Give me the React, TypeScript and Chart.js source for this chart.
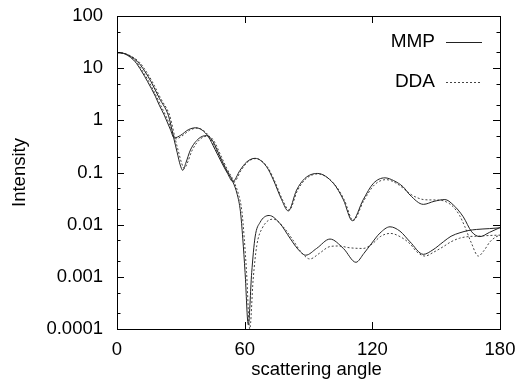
import { useEffect, useRef } from "react";
import { Chart, registerables } from "chart.js";

Chart.register(...registerables);

// ---- data ----
const xTicks = [0, 60, 120, 180];
const yTicks = [0.0001, 0.001, 0.01, 0.1, 1, 10, 100];
const yTickLabels = ["0.0001", "0.001", "0.01", "0.1", "1", "10", "100"];
const legendLabels = ["MMP", "DDA"];
const xTitle = "scattering angle";
const yTitle = "Intensity";

const mmpAAngles = [0, 4, 8.5, 11.5, 14.4, 18, 20, 22.2, 25, 26.9, 30, 33.5, 37, 40, 43, 46, 49, 52, 54.4, 57.8, 61, 64.9, 70.3, 73.5, 77.4, 80.5, 84.4, 88.3, 94.1, 101.7, 106.4, 110.6, 115.7, 120.5, 125.9, 130, 134.5, 137.7, 144, 149, 154.1, 158, 162.7, 166.7, 170.6, 175, 180];
const mmpAValues = [20, 18.5, 13.3, 8.8, 5.5, 2.9, 1.9, 1.26, 0.68, 0.46, 0.52, 0.66, 0.72, 0.65, 0.48, 0.28, 0.16, 0.095, 0.067, 0.11, 0.16, 0.187, 0.129, 0.072, 0.03, 0.0183, 0.046, 0.077, 0.096, 0.062, 0.03, 0.0119, 0.03, 0.062, 0.079, 0.07, 0.053, 0.037, 0.0245, 0.028, 0.0303, 0.024, 0.0142, 0.0073, 0.0059, 0.0071, 0.0088];

const mmpBAngles = [0, 4, 9.7, 13, 16, 20, 24.1, 25.2, 26.6, 28.3, 29.7, 30.9, 32.3, 34.5, 38.5, 42.1, 45, 48, 51, 54.4, 56.5, 58, 59.1, 60.2, 61.7, 63.3, 64.9, 67.2, 71.5, 76.6, 81.3, 85, 88.7, 93.8, 100.1, 106.4, 112.3, 116, 119.5, 123.6, 128.3, 133, 137.7, 144, 148.5, 153.4, 157, 161.2, 165, 169, 175, 180];
const mmpBValues = [20, 18.8, 13.3, 8.8, 5.5, 2.6, 1.26, 0.85, 0.47, 0.24, 0.14, 0.11, 0.15, 0.27, 0.45, 0.51, 0.4, 0.22, 0.12, 0.067, 0.038, 0.018, 0.0055, 0.0012, 0.00012, 0.0012, 0.0058, 0.011, 0.015, 0.0105, 0.0055, 0.0034, 0.0026, 0.0035, 0.0053, 0.0035, 0.0019, 0.0028, 0.0043, 0.0069, 0.0091, 0.0075, 0.0047, 0.0027, 0.0033, 0.0047, 0.006, 0.007, 0.0077, 0.0081, 0.0084, 0.0087];

const ddaAAngles = [0, 4, 9, 12, 15, 18.5, 20.5, 22.8, 25.6, 27.6, 30.5, 34, 37.6, 40.6, 43.5, 46.5, 49.5, 52.5, 55, 58.3, 61.5, 65.3, 70.7, 74, 77.8, 80.9, 84.8, 88.7, 94.5, 102, 106.8, 111, 116, 121, 126.5, 131, 134.5, 137.7, 141, 144, 148, 151.8, 155, 158, 161, 163.5, 166.5, 169.8, 172.5, 175.3, 178, 180];
const ddaAValues = [20, 18.7, 13.3, 8.8, 5.5, 2.9, 1.95, 1.26, 0.68, 0.44, 0.5, 0.64, 0.71, 0.64, 0.48, 0.28, 0.16, 0.095, 0.066, 0.11, 0.16, 0.185, 0.128, 0.07, 0.03, 0.019, 0.045, 0.075, 0.094, 0.061, 0.03, 0.012, 0.029, 0.058, 0.073, 0.063, 0.05, 0.039, 0.033, 0.0303, 0.0298, 0.0295, 0.027, 0.022, 0.015, 0.0091, 0.0045, 0.0025, 0.0032, 0.0047, 0.0058, 0.0063];

const ddaBAngles = [0, 4, 10.3, 13.6, 16.6, 20.6, 24.7, 25.8, 27.2, 28.9, 30.4, 31.6, 33, 35.2, 39.2, 42.8, 45.6, 48.6, 51.6, 55, 57.2, 58.7, 59.8, 60.9, 62.4, 64, 65.7, 68.2, 73.5, 78, 82.5, 86.5, 90.7, 95, 100, 104, 109.5, 115.7, 120, 124, 128.5, 133, 137.7, 141, 144.7, 149, 153.4, 157, 161, 165, 169, 175, 180];
const ddaBValues = [20, 18.9, 13.3, 8.8, 5.5, 2.6, 1.26, 0.85, 0.47, 0.25, 0.15, 0.12, 0.15, 0.26, 0.44, 0.5, 0.4, 0.22, 0.12, 0.066, 0.037, 0.018, 0.0055, 0.0012, 0.0001, 0.0009, 0.004, 0.0085, 0.0128, 0.0092, 0.0052, 0.003, 0.0022, 0.0028, 0.0038, 0.0039, 0.0036, 0.0035, 0.0043, 0.006, 0.0068, 0.0059, 0.0043, 0.003, 0.0025, 0.003, 0.0038, 0.0047, 0.0055, 0.0059, 0.006, 0.0062, 0.0063];

const FONT = '"Liberation Sans", Arial, Helvetica, sans-serif';

function pts(xs: number[], ys: number[]) {
  return xs.map((x, i) => ({ x, y: ys[i] }));
}

const framePlugin = {
  id: "frameAndLegend",
  afterDatasetsDraw(chart: any) {
    const { ctx, chartArea, scales } = chart;
    const { left, right, top, bottom } = chartArea;
    const ys = scales.y;
    const xs = scales.x;
    ctx.save();
    ctx.strokeStyle = "#000";
    ctx.lineWidth = 1;
    ctx.setLineDash([]);
    ctx.strokeRect(Math.round(left) + 0.5, Math.round(top) + 0.5, Math.round(right - left), Math.round(bottom - top));
    ctx.beginPath();
    for (let k = -4; k <= 2; k++) {
      const yv = Math.round(ys.getPixelForValue(Math.pow(10, k))) + 0.5;
      ctx.moveTo(left, yv); ctx.lineTo(left + 7, yv);
      ctx.moveTo(right, yv); ctx.lineTo(right - 7, yv);
      if (k < 2) {
        for (const m of [2, 5]) {
          const ym = Math.round(ys.getPixelForValue(m * Math.pow(10, k))) + 0.5;
          ctx.moveTo(left, ym); ctx.lineTo(left + 3.5, ym);
          ctx.moveTo(right, ym); ctx.lineTo(right - 3.5, ym);
        }
      }
    }
    for (const v of xTicks) {
      const xv = Math.round(xs.getPixelForValue(v)) + 0.5;
      ctx.moveTo(xv, bottom); ctx.lineTo(xv, bottom - 7);
      ctx.moveTo(xv, top); ctx.lineTo(xv, top + 7);
    }
    ctx.stroke();

    // x axis title
    ctx.font = `18.5px ${FONT}`;
    ctx.fillStyle = "#000";
    ctx.textAlign = "center";
    ctx.textBaseline = "middle";
    ctx.fillText(xTitle, (left + right) / 2 + 8, bottom + 41);

    // legend
    ctx.font = `19px ${FONT}`;
    ctx.textAlign = "right";
    const entries = [
      { label: legendLabels[0], dash: [] as number[], y: top + 26, color: "#222" },
      { label: legendLabels[1], dash: [2, 2], y: top + 66, color: "#444" },
    ];
    for (const e of entries) {
      ctx.fillText(e.label, right - 65, e.y);
      ctx.beginPath();
      ctx.setLineDash(e.dash);
      ctx.strokeStyle = e.color;
      ctx.moveTo(right - 54, Math.round(e.y) + 0.5);
      ctx.lineTo(right - 18, Math.round(e.y) + 0.5);
      ctx.stroke();
    }
    ctx.restore();
  },
};

export default function App() {
  const ref = useRef<HTMLCanvasElement | null>(null);
  useEffect(() => {
    if (!ref.current) return;
    const solid = { borderColor: "#222", borderWidth: 1, pointRadius: 0, fill: false, cubicInterpolationMode: "monotone" as const };
    const dashed = { borderColor: "#444", borderWidth: 1, pointRadius: 0, fill: false, borderDash: [2, 2], cubicInterpolationMode: "monotone" as const };
    const zeroPad = (s: any) => { s.paddingTop = 0; s.paddingBottom = 0; s.paddingLeft = 0; s.paddingRight = 0; };
    const chart = new Chart(ref.current, {
      type: "line",
      data: {
        datasets: [
          { label: legendLabels[0], data: pts(mmpAAngles, mmpAValues), ...solid },
          { label: legendLabels[0], data: pts(mmpBAngles, mmpBValues), ...solid },
          { label: legendLabels[1], data: pts(ddaAAngles, ddaAValues), ...dashed },
          { label: legendLabels[1], data: pts(ddaBAngles, ddaBValues), ...dashed },
        ],
      },
      options: {
        animation: false,
        responsive: false,
        devicePixelRatio: 1,
        layout: { padding: { top: 16, right: 18, left: 0, bottom: 0 } },
        plugins: { legend: { display: false }, tooltip: { enabled: false } },
        scales: {
          x: {
            type: "linear",
            min: 0,
            max: 180,
            afterBuildTicks: (s: any) => { s.ticks = xTicks.map((v) => ({ value: v })); },
            afterFit: (s: any) => { s.height = 51; zeroPad(s); },
            ticks: { font: { family: FONT, size: 18.5 }, color: "#000", padding: 10, maxRotation: 0, autoSkip: false },
            grid: { display: false, drawTicks: false },
            border: { display: false },
            title: { display: false },
          },
          y: {
            type: "logarithmic",
            min: 0.0001,
            max: 100,
            afterBuildTicks: (s: any) => { s.ticks = yTicks.map((v) => ({ value: v, major: true })); },
            afterFit: (s: any) => { s.width = 117; zeroPad(s); },
            ticks: {
              font: { family: FONT, size: 18.5 },
              color: "#000",
              padding: 14,
              autoSkip: false,
              callback: (v: any) => {
                const i = yTicks.findIndex((t) => Math.abs(Math.log10(t) - Math.log10(Number(v))) < 1e-6);
                return i >= 0 ? yTickLabels[i] : "";
              },
            },
            grid: { display: false, drawTicks: false },
            border: { display: false },
            title: { display: true, text: yTitle, font: { family: FONT, size: 18.5 }, color: "#000", padding: { top: 9, bottom: 0 } },
          },
        },
      } as any,
      plugins: [framePlugin],
    });
    return () => chart.destroy();
  }, []);
  return (
    <div style={{ position: "fixed", left: 0, top: 0, width: 518, height: 380, background: "#fff" }}>
      <canvas ref={ref} width={518} height={380} style={{ display: "block", width: 518, height: 380 }} />
    </div>
  );
}
